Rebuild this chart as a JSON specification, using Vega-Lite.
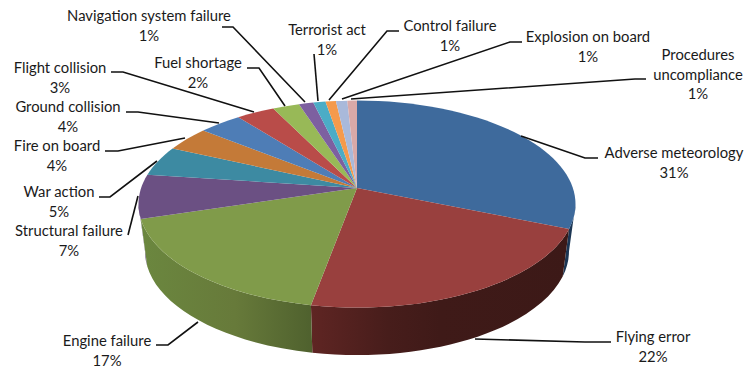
{
  "$schema": "https://vega.github.io/schema/vega-lite/v6.json",
  "width": 745,
  "height": 367,
  "padding": 0,
  "autosize": {"type": "none"},
  "background": "white",
  "config": {"view": {"stroke": null}},
  "data": {"values": [
    {"i": 0, "cause": "Adverse meteorology", "pct": 31.3},
    {"i": 1, "cause": "Flying error", "pct": 21.7},
    {"i": 2, "cause": "Engine failure", "pct": 17.4},
    {"i": 3, "cause": "Structural failure", "pct": 6.9},
    {"i": 4, "cause": "War action", "pct": 4.7},
    {"i": 5, "cause": "Fire on board", "pct": 3.9},
    {"i": 6, "cause": "Ground collision", "pct": 3.7},
    {"i": 7, "cause": "Flight collision", "pct": 3.3},
    {"i": 8, "cause": "Fuel shortage", "pct": 2.3},
    {"i": 9, "cause": "Navigation system failure", "pct": 1.25},
    {"i": 10, "cause": "Terrorist act", "pct": 1.05},
    {"i": 11, "cause": "Control failure", "pct": 0.9},
    {"i": 12, "cause": "Explosion on board", "pct": 0.97},
    {"i": 13, "cause": "Procedures\nuncompliance", "pct": 0.83}
  ]},
  "transform": [
    {"stack": "pct", "groupby": [], "sort": [{"field": "i", "order": "ascending"}], "offset": "normalize", "as": ["s0", "s1"]},
    {"calculate": "datum.s0 * 2 * PI", "as": "t0"},
    {"calculate": "datum.s1 * 2 * PI", "as": "t1"},
    {"calculate": "round(100 * 215.9 * sin(datum.t0) / (1 + 0.1546 * cos(datum.t0))) / 100", "as": "x0"},
    {"calculate": "round(-100 * 101 * cos(datum.t0) / (1 + 0.1546 * cos(datum.t0))) / 100", "as": "y0"},
    {"calculate": "round(100 * 215.9 * sin(datum.t1) / (1 + 0.1546 * cos(datum.t1))) / 100", "as": "x1"},
    {"calculate": "round(-100 * 101 * cos(datum.t1) / (1 + 0.1546 * cos(datum.t1))) / 100", "as": "y1"},
    {"calculate": "'M0,0L' + datum.x0 + ',' + datum.y0 + 'A218.5,103.5,0,0,1,' + datum.x1 + ',' + datum.y1 + 'Z'", "as": "topPath"},
    {"calculate": "max(datum.t0, 1.7261)", "as": "a0"},
    {"calculate": "min(datum.t1, 4.5571)", "as": "a1"},
    {"calculate": "round(100 * 215.9 * sin(datum.a0) / (1 + 0.1546 * cos(datum.a0))) / 100", "as": "wx0"},
    {"calculate": "round(-100 * 101 * cos(datum.a0) / (1 + 0.1546 * cos(datum.a0))) / 100", "as": "wy0"},
    {"calculate": "round(100 * 215.9 * sin(datum.a1) / (1 + 0.1546 * cos(datum.a1))) / 100", "as": "wx1"},
    {"calculate": "round(-100 * 101 * cos(datum.a1) / (1 + 0.1546 * cos(datum.a1))) / 100", "as": "wy1"},
    {"calculate": "'M' + datum.wx0 + ',' + datum.wy0 + 'A218.5,103.5,0,0,1,' + datum.wx1 + ',' + datum.wy1 + 'L' + (datum.wx1 * 0.97) + ',' + (datum.wy1 + 47.5) + 'A212,103.5,0,0,0,' + (datum.wx0 * 0.97) + ',' + (datum.wy0 + 47.5) + 'Z'", "as": "wallPath"},
    {"calculate": "datum.cause + '\\n' + format(datum.pct, '.0f') + '%'", "as": "caption"}
  ],
  "layer": [
    {
      "transform": [{"filter": "datum.i == 0 || datum.i == 3"}],
      "mark": {"type": "point", "filled": true, "opacity": 1, "strokeWidth": 0},
      "encoding": {
        "x": {"datum": 0, "type": "quantitative", "axis": null, "scale": {"domain": [-357, 388], "nice": false, "zero": false}},
        "y": {"datum": 0, "type": "quantitative", "axis": null, "scale": {"domain": [-179, 188], "nice": false, "zero": false}},
        "size": {"value": 4},
        "shape": {"field": "wallPath", "type": "nominal", "scale": null, "legend": null},
        "fill": {"field": "i", "type": "nominal", "legend": null, "scale": {"domain": [0, 3], "range": ["#1c3654", "#54406b"]}}
      }
    },
    {
      "transform": [{"filter": "datum.i == 1"}],
      "mark": {"type": "point", "filled": true, "opacity": 1, "strokeWidth": 0, "fill": {"gradient": "linear", "x1": 0, "y1": 0, "x2": 1, "y2": 0, "stops": [{"offset": 0, "color": "#5f2523"}, {"offset": 0.3, "color": "#471d1b"}, {"offset": 0.5, "color": "#3f1a18"}, {"offset": 1, "color": "#3c1917"}]}},
      "encoding": {
        "x": {"datum": 0, "type": "quantitative", "axis": null, "scale": {"domain": [-357, 388], "nice": false, "zero": false}},
        "y": {"datum": 0, "type": "quantitative", "axis": null, "scale": {"domain": [-179, 188], "nice": false, "zero": false}},
        "size": {"value": 4},
        "shape": {"field": "wallPath", "type": "nominal", "scale": null, "legend": null}
      }
    },
    {
      "transform": [{"filter": "datum.i == 2"}],
      "mark": {"type": "point", "filled": true, "opacity": 1, "strokeWidth": 0, "fill": {"gradient": "linear", "x1": 0, "y1": 0, "x2": 1, "y2": 0, "stops": [{"offset": 0, "color": "#6b873f"}, {"offset": 0.55, "color": "#677a3a"}, {"offset": 1, "color": "#4f612e"}]}},
      "encoding": {
        "x": {"datum": 0, "type": "quantitative", "axis": null, "scale": {"domain": [-357, 388], "nice": false, "zero": false}},
        "y": {"datum": 0, "type": "quantitative", "axis": null, "scale": {"domain": [-179, 188], "nice": false, "zero": false}},
        "size": {"value": 4},
        "shape": {"field": "wallPath", "type": "nominal", "scale": null, "legend": null}
      }
    },
    {
      "mark": {"type": "point", "filled": true, "opacity": 1, "strokeWidth": 0},
      "encoding": {
        "x": {"datum": 0, "type": "quantitative", "axis": null, "scale": {"domain": [-357, 388], "nice": false, "zero": false}},
        "y": {"datum": 0, "type": "quantitative", "axis": null, "scale": {"domain": [-179, 188], "nice": false, "zero": false}},
        "size": {"value": 4},
        "shape": {"field": "topPath", "type": "nominal", "scale": null, "legend": null},
        "fill": {
          "field": "i", "type": "nominal", "legend": null,
          "scale": {
            "domain": [0, 1, 2, 3, 4, 5, 6, 7, 8, 9, 10, 11, 12, 13],
            "range": ["#3e6a9c", "#99403e", "#809b4a", "#6b5083", "#3d8aa2", "#c47a38", "#4e7db6", "#b94c49", "#98b957", "#7d60a0", "#4bacc6", "#f59a4c", "#a9b9da", "#d9a9a8"]
          }
        }
      }
    },
    {
      "mark": {"type": "point", "filled": false, "opacity": 1, "stroke": "#111111", "strokeWidth": 1.6, "fill": null},
      "encoding": {
        "x": {"datum": 0, "type": "quantitative", "axis": null, "scale": {"domain": [-357, 388], "nice": false, "zero": false}},
        "y": {"datum": 0, "type": "quantitative", "axis": null, "scale": {"domain": [-179, 188], "nice": false, "zero": false}},
        "size": {"value": 4},
        "shape": {
          "field": "i", "type": "nominal", "legend": null,
          "scale": {
            "domain": [0, 1, 2, 3, 4, 5, 6, 7, 8, 9, 10, 11, 12, 13],
            "range": [
              "M164,-52L228,-30L241,-30",
              "M118,151L228,154L254,154",
              "M-159,134L-189,157L-201,157",
              "M-219,8L-229,47",
              "M-200,-27L-247,9L-258,9",
              "M-172,-50L-239,-37L-252,-37",
              "M-138,-65L-219,-76L-231,-76",
              "M-103,-76L-234,-116L-246,-116",
              "M-72,-82L-98,-120L-110,-120",
              "M-52,-86L-124,-161L-135,-161",
              "M-39,-87L-43,-134",
              "M-28,-88L30,-157L42,-157",
              "M-15,-89L153,-146L165,-146",
              "M-6,-89L278,-109L289,-109"
            ]
          }
        }
      }
    },
    {
      "mark": {"type": "text", "font": "Lato", "fontSize": 14.8, "color": "#1a1a1a", "align": "center", "baseline": "alphabetic", "lineBreak": "\n", "lineHeight": 19.5},
      "encoding": {
        "text": {"field": "caption", "type": "nominal"},
        "x": {"field": "i", "type": "quantitative", "axis": null, "scale": {"domain": [0, 1, 2, 3, 4, 5, 6, 7, 8, 9, 10, 11, 12, 13], "range": [674, 653, 107, 69, 59, 57, 68, 60, 198, 149, 327, 450, 588, 698], "nice": false, "zero": false}},
        "y": {"field": "i", "type": "quantitative", "axis": null, "scale": {"domain": [0, 1, 2, 3, 4, 5, 6, 7, 8, 9, 10, 11, 12, 13], "range": [158, 342, 346, 236, 197, 151, 112, 73, 68, 21, 35, 31, 42, 60], "nice": false, "zero": false}}
      }
    }
  ],
  "resolve": {"scale": {"x": "independent", "y": "independent", "shape": "independent", "fill": "independent"}}
}
